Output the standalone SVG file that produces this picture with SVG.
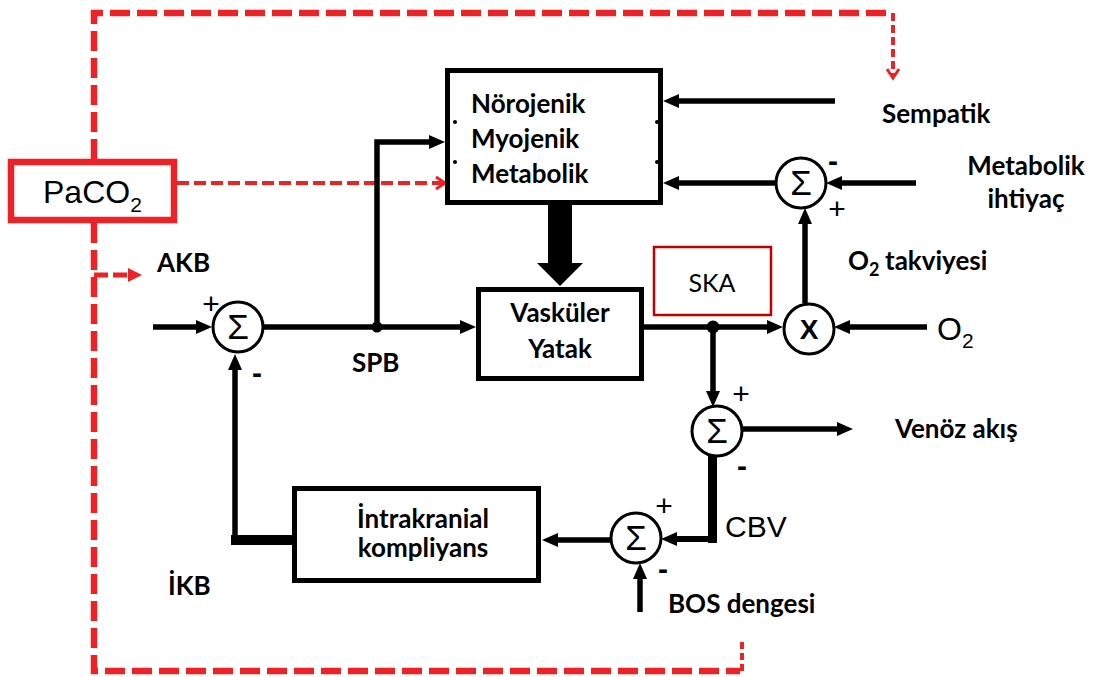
<svg xmlns="http://www.w3.org/2000/svg" width="1097" height="677" viewBox="0 0 1097 677">
<defs>
<style>
.blk{fill:none;stroke:#000;stroke-width:5.5}
.box{fill:#fff;stroke:#000;stroke-width:5}
.sum{fill:#fff;stroke:#000;stroke-width:3}
.lbl{font-family:Lato,"Open Sans",sans-serif;font-weight:bold;font-size:26px;fill:#000}
.reg{font-family:Lato,"Open Sans",sans-serif;font-size:25px;fill:#000}
.ar{font-family:"Liberation Sans",Arial,sans-serif;fill:#000}
.red{fill:none;stroke:#ec2227}
.rthick{stroke-width:6.5;stroke-dasharray:20 7}
.rthin{stroke-width:4;stroke-dasharray:12 5}
.sig{font-family:"Liberation Sans",Arial,sans-serif;font-size:35px;text-anchor:middle;fill:#000}
.sg{font-family:"Liberation Sans",Arial,sans-serif;font-size:30px;text-anchor:middle;fill:#000}
.mn{font-weight:bold}
</style>
<marker id="ah" markerUnits="userSpaceOnUse" markerWidth="16" markerHeight="16" viewBox="0 0 16 16" refX="9" refY="8" orient="auto"><path d="M0,1 L16,8 L0,15 z" fill="#000"/></marker>
<marker id="rc" markerUnits="userSpaceOnUse" markerWidth="14" markerHeight="16" viewBox="0 0 14 16" refX="11" refY="8" orient="auto"><path d="M2,2 L11,8 L2,14" fill="none" stroke="#ec2227" stroke-width="3"/></marker>
<marker id="rf" markerUnits="userSpaceOnUse" markerWidth="16" markerHeight="16" viewBox="0 0 16 16" refX="4" refY="8" orient="auto"><path d="M0,1 L14,8 L0,15 z" fill="#ec2227"/></marker>
</defs>
<rect width="1097" height="677" fill="#fff"/>

<g id="connectors">
  <path class="red rthick" d="M94,159 V13 H893"/>
  <path class="red" stroke-width="4" stroke-dasharray="8 4" d="M893,13 V78" marker-end="url(#rc)"/>
  <path class="red rthick" d="M94,223 V671 H740"/>
  <path class="red" stroke-width="4" stroke-dasharray="7 4" d="M742,671 V640"/>
  <path class="red" stroke-width="5" stroke-dasharray="14 5" d="M94,275 H132" marker-end="url(#rf)"/>
  <path class="red rthin" d="M177,183 H445" marker-end="url(#rc)"/>

  <line class="blk" x1="153" y1="327" x2="205" y2="327" marker-end="url(#ah)"/>
  <line class="blk" x1="263" y1="327" x2="469" y2="327" marker-end="url(#ah)"/>
  <path class="blk" d="M377,327 V142 H438" marker-end="url(#ah)"/>
  <line class="blk" x1="644" y1="327" x2="776" y2="327" marker-end="url(#ah)"/>
  <line class="blk" x1="927" y1="327" x2="841" y2="327" marker-end="url(#ah)"/>
  <line class="blk" x1="805" y1="303" x2="805" y2="215" marker-end="url(#ah)"/>
  <line class="blk" x1="916" y1="183" x2="833" y2="183" marker-end="url(#ah)"/>
  <line class="blk" x1="776" y1="183" x2="670" y2="183" marker-end="url(#ah)"/>
  <line class="blk" x1="835" y1="101" x2="670" y2="101" marker-end="url(#ah)"/>
  <path d="M548,203 L572,203 L572,263 L583,263 L560,286 L537,263 L548,263 Z" fill="#000"/>
  <line class="blk" x1="713" y1="327" x2="713" y2="400" marker-end="url(#ah)"/>
  <line class="blk" x1="743" y1="429" x2="846" y2="429" marker-end="url(#ah)"/>
  <line fill="none" stroke="#000" stroke-width="9" x1="712.5" y1="455" x2="712.5" y2="543"/>
  <line fill="none" stroke="#000" stroke-width="6" x1="717" y1="539" x2="668" y2="539" marker-end="url(#ah)"/>
  <line class="blk" x1="611" y1="540" x2="549" y2="540" marker-end="url(#ah)"/>
  <line class="blk" x1="640" y1="612" x2="640" y2="570" marker-end="url(#ah)"/>
  <line fill="none" stroke="#000" stroke-width="10" x1="292" y1="540" x2="231" y2="540"/>
  <line class="blk" x1="235" y1="544" x2="235" y2="361" marker-end="url(#ah)"/>
  <circle cx="377" cy="327" r="5.5" fill="#000"/>
  <circle cx="713" cy="327" r="6.5" fill="#000"/>
</g>

<g id="paco2">
  <rect x="11" y="162" width="163" height="58" fill="#fff" stroke="#ec2227" stroke-width="6.5"/>
  <text class="ar" x="43" y="203" font-size="32">PaCO<tspan font-size="21" dy="9">2</tspan></text>
</g>

<g id="norojenik">
  <rect class="box" x="447.5" y="70.5" width="213" height="132"/>
  <text class="lbl" x="471" y="113">Nörojenik</text>
  <text class="lbl" x="471" y="148">Myojenik</text>
  <text class="lbl" x="471" y="183">Metabolik</text>
  <circle cx="455" cy="122" r="2" fill="#000"/>
  <circle cx="455" cy="162" r="2" fill="#000"/>
  <circle cx="657" cy="122" r="2" fill="#000"/>
  <circle cx="657" cy="162" r="2" fill="#000"/>
</g>

<g id="vaskuler">
  <rect class="box" x="478.5" y="289.5" width="163" height="89"/>
  <text class="lbl" x="560" y="322" text-anchor="middle">Vasküler</text>
  <text class="lbl" x="560" y="358" text-anchor="middle">Yatak</text>
</g>

<g id="ska">
  <rect x="654" y="247" width="117" height="68" fill="#fff" stroke="#c00000" stroke-width="2.5"/>
  <text class="reg" x="712" y="292" text-anchor="middle">SKA</text>
</g>

<g id="intrakranial">
  <rect class="box" x="294.5" y="488.5" width="244" height="92"/>
  <text class="lbl" x="423" y="528" text-anchor="middle">İntrakranial</text>
  <text class="lbl" x="423" y="557" text-anchor="middle">kompliyans</text>
</g>

<g id="sum-main">
  <circle class="sum" cx="238" cy="327" r="25"/>
  <text class="sig" x="238" y="339">Σ</text>
  <text class="sg" x="211" y="314">+</text>
  <text class="sg mn" x="257" y="383">-</text>
</g>

<g id="sum-metabolik">
  <circle class="sum" cx="801" cy="183" r="25"/>
  <text class="sig" x="801" y="195">Σ</text>
  <text class="sg mn" x="833" y="171">-</text>
  <text class="sg" x="837" y="219">+</text>
</g>

<g id="mult-o2">
  <circle class="sum" cx="809" cy="329" r="25"/>
  <text class="ar" x="809" y="339" font-size="28" font-weight="bold" text-anchor="middle">X</text>
</g>

<g id="sum-venoz">
  <circle class="sum" cx="717" cy="431" r="25"/>
  <text class="sig" x="717" y="443">Σ</text>
  <text class="sg" x="741" y="404">+</text>
  <text class="sg mn" x="742" y="476">-</text>
</g>

<g id="sum-bos">
  <circle class="sum" cx="636" cy="538" r="25"/>
  <text class="sig" x="636" y="550">Σ</text>
  <text class="sg" x="664" y="516">+</text>
  <text class="sg mn" x="663" y="579">-</text>
</g>

<g id="labels">
  <text class="lbl" x="157" y="272">AKB</text>
  <text class="lbl" x="352" y="372">SPB</text>
  <text class="lbl" x="168" y="595">İKB</text>
  <text class="lbl" x="882" y="123">Sempatik</text>
  <text class="lbl" x="1026" y="175" text-anchor="middle">Metabolik</text>
  <text class="lbl" x="1026" y="208" text-anchor="middle">ihtiyaç</text>
  <text class="lbl" x="848" y="270">O<tspan font-size="18" dy="6">2</tspan><tspan x="885" dy="-6">takviyesi</tspan></text>
  <text class="lbl" x="895" y="438">Venöz akış</text>
  <text class="lbl" x="668" y="613">BOS dengesi</text>
  <text class="ar" x="725" y="537" font-size="30">CBV</text>
  <text class="ar" x="937" y="340" font-size="32">O<tspan font-size="21" dy="8">2</tspan></text>
</g>
</svg>
